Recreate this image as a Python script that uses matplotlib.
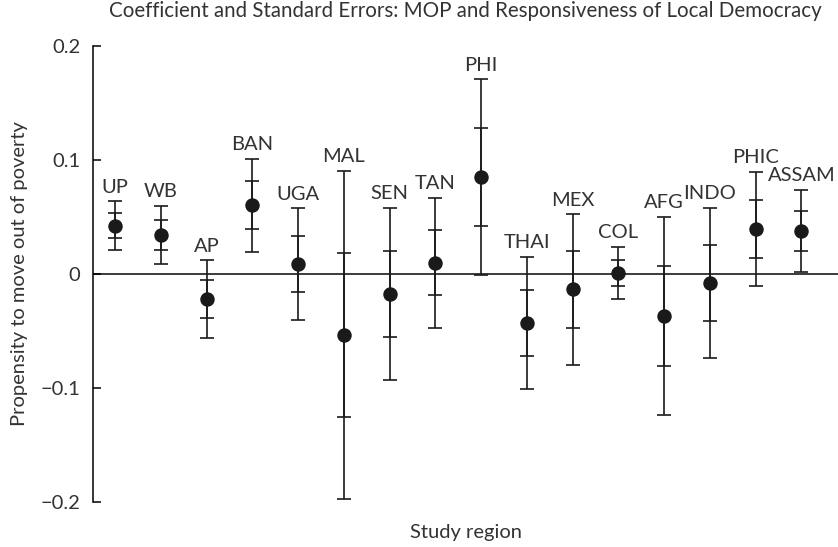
import matplotlib
matplotlib.use("Agg")
import matplotlib.pyplot as plt
import numpy as np

plt.rcParams['font.family'] = ['Lato', 'DejaVu Sans']

regions = ["UP", "WB", "AP", "BAN", "UGA", "MAL", "SEN", "TAN",
           "PHI", "THAI", "MEX", "COL", "AFG", "INDO", "PHIC", "ASSAM"]
coef = [0.042, 0.034, -0.022, 0.060, 0.0084, -0.0535, -0.0177, 0.0096,
        0.0847, -0.043, -0.0137, 0.0009, -0.037, -0.0081, 0.0393, 0.0378]
# half-width of inner ticks (1 s.e.) and outer caps
se = [0.011, 0.0128, 0.017, 0.021, 0.0247, 0.072, 0.038, 0.0285,
      0.043, 0.029, 0.034, 0.0116, 0.044, 0.033, 0.0254, 0.0175]
ci = [0.0215, 0.0257, 0.034, 0.041, 0.049, 0.144, 0.0757, 0.057,
      0.086, 0.058, 0.066, 0.023, 0.087, 0.066, 0.050, 0.036]

txt = '#333333'
ink = '#1a1a1a'
fs = 14.5

fig = plt.figure(figsize=(8.38, 5.47), dpi=100)
ax = fig.add_axes([0.111, 0.0823, 0.889, 0.8342])

x = np.arange(1, len(regions) + 1)
c = np.array(coef)
ax.axhline(0, color=ink, lw=1.2, zorder=1)
ax.errorbar(x, c, yerr=ci, fmt='none', ecolor=ink, elinewidth=1.2,
            capsize=5, capthick=1.2, zorder=2)
ax.errorbar(x, c, yerr=se, fmt='none', ecolor=ink, elinewidth=1.2,
            capsize=5, capthick=1.2, zorder=2)
ax.plot(x, c, 'o', color=ink, ms=9.4, zorder=3, clip_on=False)

for xi, top, name in zip(x, c + np.array(ci), regions):
    ax.annotate(name, (xi, top), xytext=(0, 4), textcoords='offset points',
                ha='center', va='bottom', fontsize=fs, color=txt)

ax.set_xlim(0.52, 16.8)
ax.set_ylim(-0.2, 0.2)
ax.set_yticks([-0.2, -0.1, 0, 0.1, 0.2])
ax.set_yticklabels(['\u22120.2', '\u22120.1', '0', '0.1', '0.2'])
ax.tick_params(axis='y', direction='in', length=6, width=1.1,
               pad=9, labelsize=fs, labelcolor=txt)
ax.set_xticks([])
for s in ['top', 'right', 'bottom']:
    ax.spines[s].set_visible(False)
ax.spines['left'].set_bounds(-0.2, 0.2)
ax.spines['left'].set_linewidth(1.1)

ax.set_ylabel('Propensity to move out of poverty', fontsize=fs,
              color=txt, labelpad=9)
ax.set_xlabel('Study region', fontsize=fs, color=txt, labelpad=16)
ax.set_title('Coefficient and Standard Errors: MOP and Responsiveness '
             'of Local Democracy', fontsize=14.8, color=txt, pad=21)

fig.savefig('out.png', dpi=100)
